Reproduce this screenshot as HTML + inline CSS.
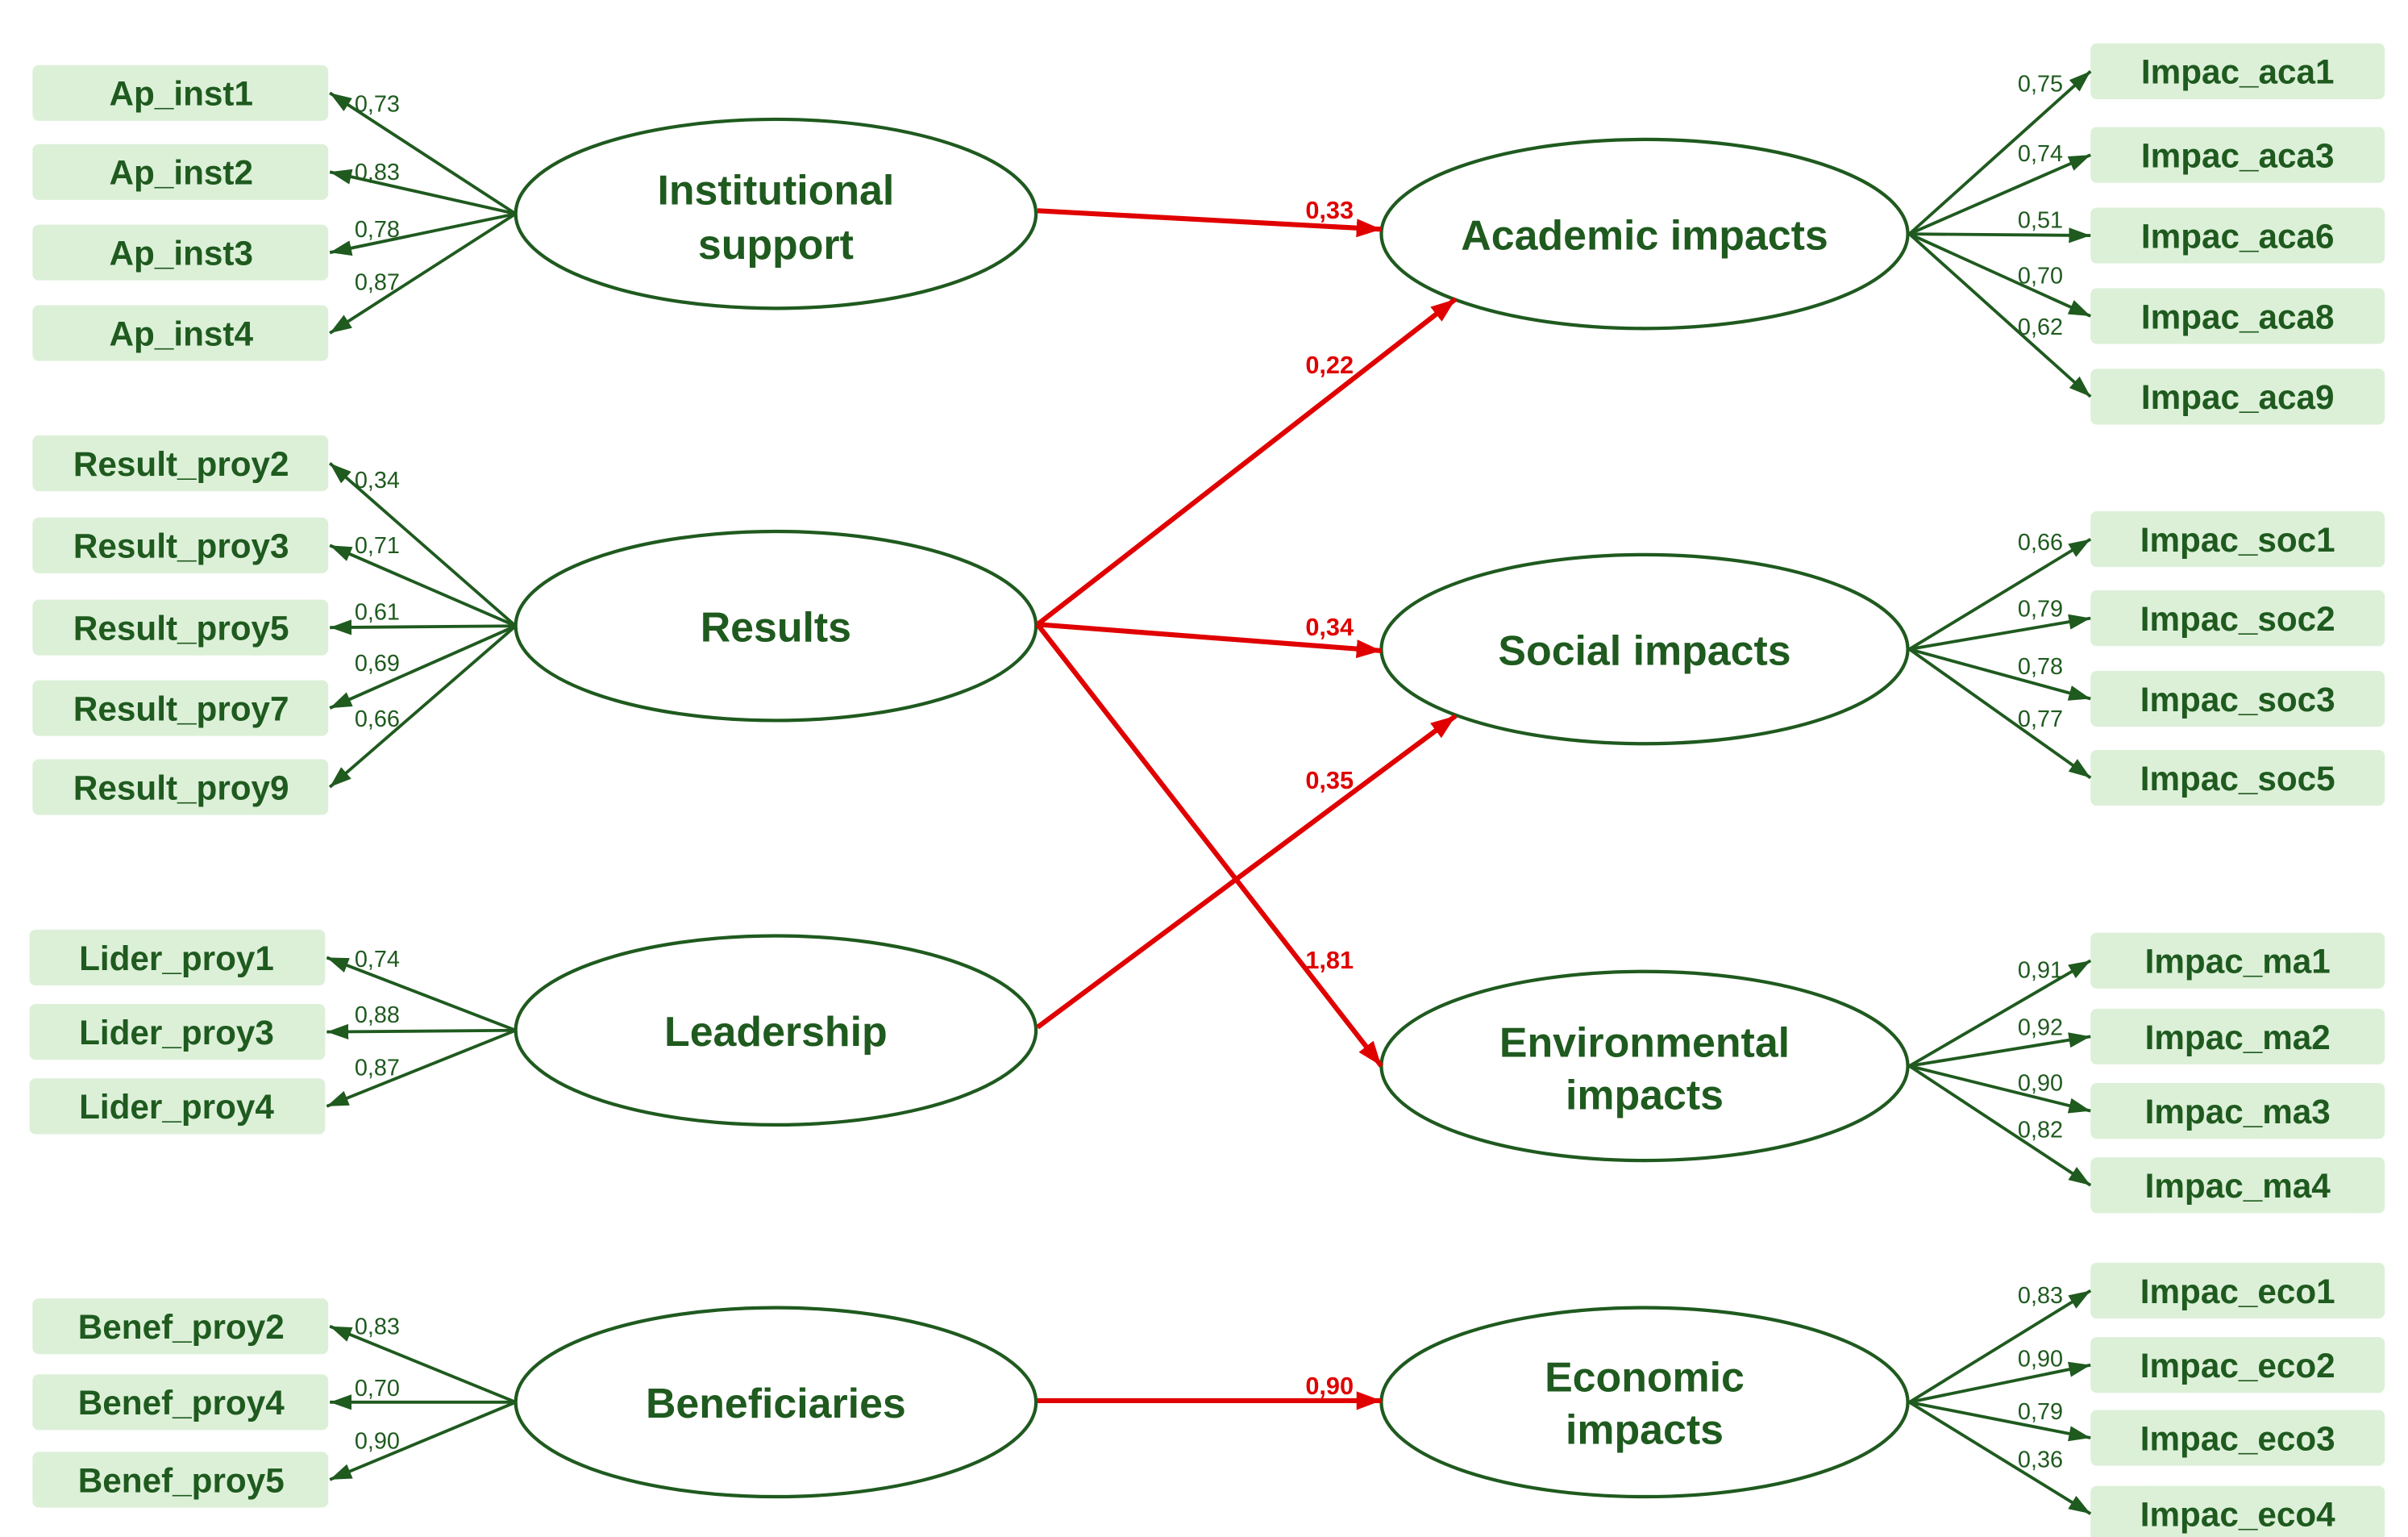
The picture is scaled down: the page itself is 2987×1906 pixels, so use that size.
<!DOCTYPE html>
<html><head><meta charset="utf-8"><style>
html,body{margin:0;padding:0;background:#fff;}
svg{display:block;}
.b{font-family:"Liberation Sans Narrow","Liberation Sans",sans-serif;font-weight:bold;fill:#1f5a1f;}
.n{font-family:"Liberation Sans Narrow","Liberation Sans",sans-serif;fill:#1f5a1f;font-size:15px;}
.r{font-family:"Liberation Sans Narrow","Liberation Sans",sans-serif;font-weight:bold;fill:#e00000;font-size:16px;}
</style></head><body>
<svg width="2987" height="1906" viewBox="0 0 1555 992" preserveAspectRatio="none" xmlns="http://www.w3.org/2000/svg">
<defs>
<marker id="g" markerWidth="14" markerHeight="10" refX="14" refY="5" orient="auto" markerUnits="userSpaceOnUse"><path d="M0,0 L14,5 L0,10 z" fill="#1f5a1f"/></marker>
<marker id="rd" markerWidth="16" markerHeight="12" refX="16" refY="6" orient="auto" markerUnits="userSpaceOnUse"><path d="M0,0 L16,6 L0,12 z" fill="#e00000"/></marker>
</defs>
<g fill="#dcf0d8">
<rect x="21" y="42" width="191" height="36" rx="4"/><rect x="21" y="93" width="191" height="36" rx="4"/><rect x="21" y="145" width="191" height="36" rx="4"/><rect x="21" y="197" width="191" height="36" rx="4"/>
<rect x="21" y="281" width="191" height="36" rx="4"/><rect x="21" y="334" width="191" height="36" rx="4"/><rect x="21" y="387" width="191" height="36" rx="4"/><rect x="21" y="439" width="191" height="36" rx="4"/><rect x="21" y="490" width="191" height="36" rx="4"/>
<rect x="19" y="600" width="191" height="36" rx="4"/><rect x="19" y="648" width="191" height="36" rx="4"/><rect x="19" y="696" width="191" height="36" rx="4"/>
<rect x="21" y="838" width="191" height="36" rx="4"/><rect x="21" y="887" width="191" height="36" rx="4"/><rect x="21" y="937" width="191" height="36" rx="4"/>
<rect x="1350" y="28" width="190" height="36" rx="4"/><rect x="1350" y="82" width="190" height="36" rx="4"/><rect x="1350" y="134" width="190" height="36" rx="4"/><rect x="1350" y="186" width="190" height="36" rx="4"/><rect x="1350" y="238" width="190" height="36" rx="4"/>
<rect x="1350" y="330" width="190" height="36" rx="4"/><rect x="1350" y="381" width="190" height="36" rx="4"/><rect x="1350" y="433" width="190" height="36" rx="4"/><rect x="1350" y="484" width="190" height="36" rx="4"/>
<rect x="1350" y="602" width="190" height="36" rx="4"/><rect x="1350" y="651" width="190" height="36" rx="4"/><rect x="1350" y="699" width="190" height="36" rx="4"/><rect x="1350" y="747" width="190" height="36" rx="4"/>
<rect x="1350" y="815" width="190" height="36" rx="4"/><rect x="1350" y="863" width="190" height="36" rx="4"/><rect x="1350" y="910" width="190" height="36" rx="4"/><rect x="1350" y="959" width="190" height="36" rx="4"/>
</g>
<g class="b" font-size="22" text-anchor="middle">
<text x="117" y="68">Ap_inst1</text><text x="117" y="119">Ap_inst2</text><text x="117" y="171">Ap_inst3</text><text x="117" y="223">Ap_inst4</text>
<text x="117" y="307">Result_proy2</text><text x="117" y="360">Result_proy3</text><text x="117" y="413">Result_proy5</text><text x="117" y="465">Result_proy7</text><text x="117" y="516">Result_proy9</text>
<text x="114" y="626">Lider_proy1</text><text x="114" y="674">Lider_proy3</text><text x="114" y="722">Lider_proy4</text>
<text x="117" y="864">Benef_proy2</text><text x="117" y="913">Benef_proy4</text><text x="117" y="963">Benef_proy5</text>
<text x="1445" y="54">Impac_aca1</text><text x="1445" y="108">Impac_aca3</text><text x="1445" y="160">Impac_aca6</text><text x="1445" y="212">Impac_aca8</text><text x="1445" y="264">Impac_aca9</text>
<text x="1445" y="356">Impac_soc1</text><text x="1445" y="407">Impac_soc2</text><text x="1445" y="459">Impac_soc3</text><text x="1445" y="510">Impac_soc5</text>
<text x="1445" y="628">Impac_ma1</text><text x="1445" y="677">Impac_ma2</text><text x="1445" y="725">Impac_ma3</text><text x="1445" y="773">Impac_ma4</text>
<text x="1445" y="841">Impac_eco1</text><text x="1445" y="889">Impac_eco2</text><text x="1445" y="936">Impac_eco3</text><text x="1445" y="985">Impac_eco4</text>
</g>
<g fill="none" stroke="#1f5a1f" stroke-width="2.2">
<ellipse cx="501" cy="138" rx="168" ry="61"/><ellipse cx="501" cy="404" rx="168" ry="61"/><ellipse cx="501" cy="665" rx="168" ry="61"/><ellipse cx="501" cy="905" rx="168" ry="61"/>
<ellipse cx="1062" cy="151" rx="170" ry="61"/><ellipse cx="1062" cy="419" rx="170" ry="61"/><ellipse cx="1062" cy="688" rx="170" ry="61"/><ellipse cx="1062" cy="905" rx="170" ry="61"/>
</g>
<g class="b" font-size="27" text-anchor="middle">
<text x="501" y="132">Institutional</text><text x="501" y="167">support</text>
<text x="501" y="414">Results</text><text x="501" y="675">Leadership</text><text x="501" y="915">Beneficiaries</text>
<text x="1062" y="161">Academic impacts</text><text x="1062" y="429">Social impacts</text>
<text x="1062" y="682">Environmental</text><text x="1062" y="716">impacts</text>
<text x="1062" y="898">Economic</text><text x="1062" y="932">impacts</text>
</g>
<g stroke="#1f5a1f" stroke-width="2" marker-end="url(#g)">
<line x1="333" y1="138" x2="213" y2="60"/><line x1="333" y1="138" x2="213" y2="111"/><line x1="333" y1="138" x2="213" y2="163"/><line x1="333" y1="138" x2="213" y2="215"/>
<line x1="333" y1="404" x2="213" y2="299"/><line x1="333" y1="404" x2="213" y2="352"/><line x1="333" y1="404" x2="213" y2="405"/><line x1="333" y1="404" x2="213" y2="457"/><line x1="333" y1="404" x2="213" y2="508"/>
<line x1="333" y1="665" x2="211" y2="618"/><line x1="333" y1="665" x2="211" y2="666"/><line x1="333" y1="665" x2="211" y2="714"/>
<line x1="333" y1="905" x2="213" y2="856"/><line x1="333" y1="905" x2="213" y2="905"/><line x1="333" y1="905" x2="213" y2="955"/>
<line x1="1233" y1="151" x2="1350" y2="46"/><line x1="1233" y1="151" x2="1350" y2="100"/><line x1="1233" y1="151" x2="1350" y2="152"/><line x1="1233" y1="151" x2="1350" y2="204"/><line x1="1233" y1="151" x2="1350" y2="256"/>
<line x1="1233" y1="419" x2="1350" y2="348"/><line x1="1233" y1="419" x2="1350" y2="399"/><line x1="1233" y1="419" x2="1350" y2="451"/><line x1="1233" y1="419" x2="1350" y2="502"/>
<line x1="1233" y1="688" x2="1350" y2="620"/><line x1="1233" y1="688" x2="1350" y2="669"/><line x1="1233" y1="688" x2="1350" y2="717"/><line x1="1233" y1="688" x2="1350" y2="765"/>
<line x1="1233" y1="905" x2="1350" y2="833"/><line x1="1233" y1="905" x2="1350" y2="881"/><line x1="1233" y1="905" x2="1350" y2="928"/><line x1="1233" y1="905" x2="1350" y2="977"/>
</g>
<g class="n">
<text x="229" y="72">0,73</text><text x="229" y="116">0,83</text><text x="229" y="153">0,78</text><text x="229" y="187">0,87</text>
<text x="229" y="315">0,34</text><text x="229" y="357">0,71</text><text x="229" y="400">0,61</text><text x="229" y="433">0,69</text><text x="229" y="469">0,66</text>
<text x="229" y="624">0,74</text><text x="229" y="660">0,88</text><text x="229" y="694">0,87</text>
<text x="229" y="861">0,83</text><text x="229" y="901">0,70</text><text x="229" y="935">0,90</text>
<text x="1303" y="59">0,75</text><text x="1303" y="104">0,74</text><text x="1303" y="147">0,51</text><text x="1303" y="183">0,70</text><text x="1303" y="216">0,62</text>
<text x="1303" y="355">0,66</text><text x="1303" y="398">0,79</text><text x="1303" y="435">0,78</text><text x="1303" y="469">0,77</text>
<text x="1303" y="631">0,91</text><text x="1303" y="668">0,92</text><text x="1303" y="704">0,90</text><text x="1303" y="734">0,82</text>
<text x="1303" y="841">0,83</text><text x="1303" y="882">0,90</text><text x="1303" y="916">0,79</text><text x="1303" y="947">0,36</text>
</g>
<g stroke="#e00000" stroke-width="3.2" marker-end="url(#rd)">
<line x1="670" y1="136" x2="892" y2="148"/>
<line x1="670" y1="403" x2="940" y2="193"/>
<line x1="670" y1="403" x2="892" y2="420"/>
<line x1="670" y1="403" x2="892" y2="688"/>
<line x1="670" y1="663" x2="940" y2="462"/>
<line x1="670" y1="904" x2="892" y2="904"/>
</g>
<g class="r">
<text x="843" y="141">0,33</text><text x="843" y="241">0,22</text><text x="843" y="410">0,34</text><text x="843" y="509">0,35</text><text x="843" y="625">1,81</text><text x="843" y="900">0,90</text>
</g>
</svg>
</body></html>
